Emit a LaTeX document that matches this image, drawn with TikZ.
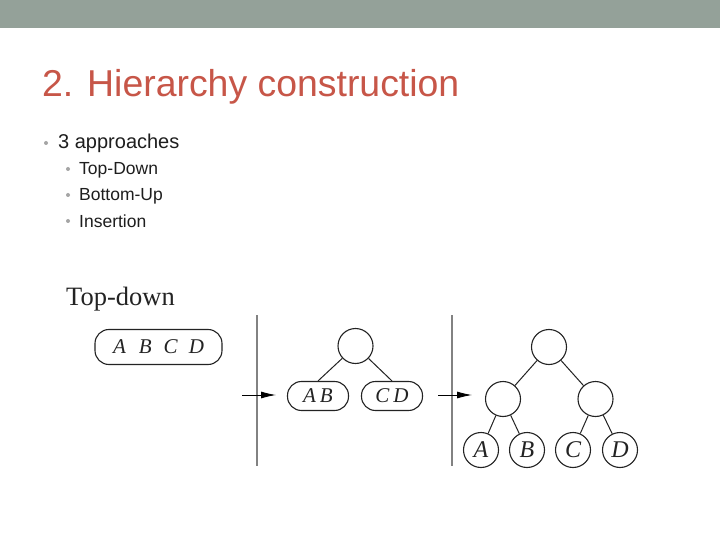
\documentclass[tikz,border=0pt]{standalone}
\usepackage{fontspec}
\setmainfont{Liberation Serif}
\newfontfamily\slidesans{Liberation Sans}
\usetikzlibrary{arrows.meta}
\definecolor{banner}{RGB}{148,161,153}
\definecolor{titlered}{RGB}{199,86,72}
\definecolor{bodytext}{RGB}{30,30,30}
\definecolor{bulletgray}{RGB}{165,165,165}
\definecolor{figink}{RGB}{35,35,35}
\definecolor{rulegray}{RGB}{130,130,130}
\tikzset{
  titletext/.style={anchor=base west, inner sep=0pt, text=titlered, font=\slidesans\fontsize{37.4}{44}\selectfont},
  lvlone/.style={anchor=base west, inner sep=0pt, text=bodytext, font=\slidesans\fontsize{20}{24}\selectfont},
  lvltwo/.style={anchor=base west, inner sep=0pt, text=bodytext, font=\slidesans\fontsize{17.5}{21}\selectfont},
  dotmark/.style={circle, fill=bulletgray, inner sep=0pt, minimum size=4pt},
  pill/.style={draw=figink, line width=1.1pt, rounded corners=14pt, inner sep=0pt, font=\itshape\fontsize{21}{24}\selectfont, text=figink},
  treenode/.style={draw=figink, line width=1.1pt, circle, inner sep=0pt, minimum size=35pt, font=\itshape\fontsize{24}{28}\selectfont, text=figink},
  edge/.style={draw=figink, line width=1pt},
  divider/.style={draw=rulegray, line width=1.2pt},
  flow/.style={draw=black, line width=0.9pt, -{Latex[length=15pt,width=7pt]}},
}
\begin{document}
\begin{tikzpicture}[x=1pt,y=-1pt]
\useasboundingbox (0,0) rectangle (720,540);
\fill[white] (0,0) rectangle (720,540);
\fill[banner] (0,0) rectangle (720,28);

% title and bullets
\node[titletext] (title) at (42,97) {2. Hierarchy construction};
\node[dotmark] (b1) at (46,143) {};
\node[lvlone] (t1) at (58,149) {3 approaches};
\node[dotmark] (b2) at (68,169) {};
\node[lvltwo] (t2) at (79,175) {Top-Down};
\node[dotmark] (b3) at (68,195) {};
\node[lvltwo] (t3) at (79,201) {Bottom-Up};
\node[dotmark] (b4) at (68,221) {};
\node[lvltwo] (t4) at (79,227) {Insertion};

% figure label
\node[anchor=base west, inner sep=0pt, text=figink, font=\fontsize{26.5}{30}\selectfont] (lbl) at (66,305) {Top-down};

% step 1
\node[pill, minimum width=127pt, minimum height=35pt] (abcd) at (158.5,347) {A\hspace{13pt}B\hspace{12pt}C\hspace{11pt}D};

% dividers
\coordinate (d1t) at (257,315); \coordinate (d1b) at (257,466);
\coordinate (d2t) at (452,315); \coordinate (d2b) at (452,466);
\draw[divider] (d1t) -- (d1b);
\draw[divider] (d2t) -- (d2b);

% arrows
\coordinate (a1s) at (242,395); \coordinate (a1e) at (276,395);
\coordinate (a2s) at (438,395); \coordinate (a2e) at (472,395);
\draw[flow] (a1s) -- (a1e);
\draw[flow] (a2s) -- (a2e);

% step 2
\node[treenode] (r2) at (355.5,346) {};
\node[pill, minimum width=61pt, minimum height=29pt] (ab) at (318,396) {A\hspace{4pt}B};
\node[pill, minimum width=61pt, minimum height=29pt] (cd) at (392,396) {C\hspace{4pt}D};
\draw[edge] (r2) -- (ab.north);
\draw[edge] (r2) -- (cd.north);

% step 3
\node[treenode] (r3) at (549,347) {};
\node[treenode] (m1) at (503,399) {};
\node[treenode] (m2) at (595.5,399) {};
\node[treenode] (la) at (481,450) {A};
\node[treenode] (lb) at (527,450) {B};
\node[treenode] (lc) at (573,450) {C};
\node[treenode] (ld) at (620,450) {D};
\draw[edge] (r3) -- (m1);
\draw[edge] (r3) -- (m2);
\draw[edge] (m1) -- (la);
\draw[edge] (m1) -- (lb);
\draw[edge] (m2) -- (lc);
\draw[edge] (m2) -- (ld);
\end{tikzpicture}
\end{document}
